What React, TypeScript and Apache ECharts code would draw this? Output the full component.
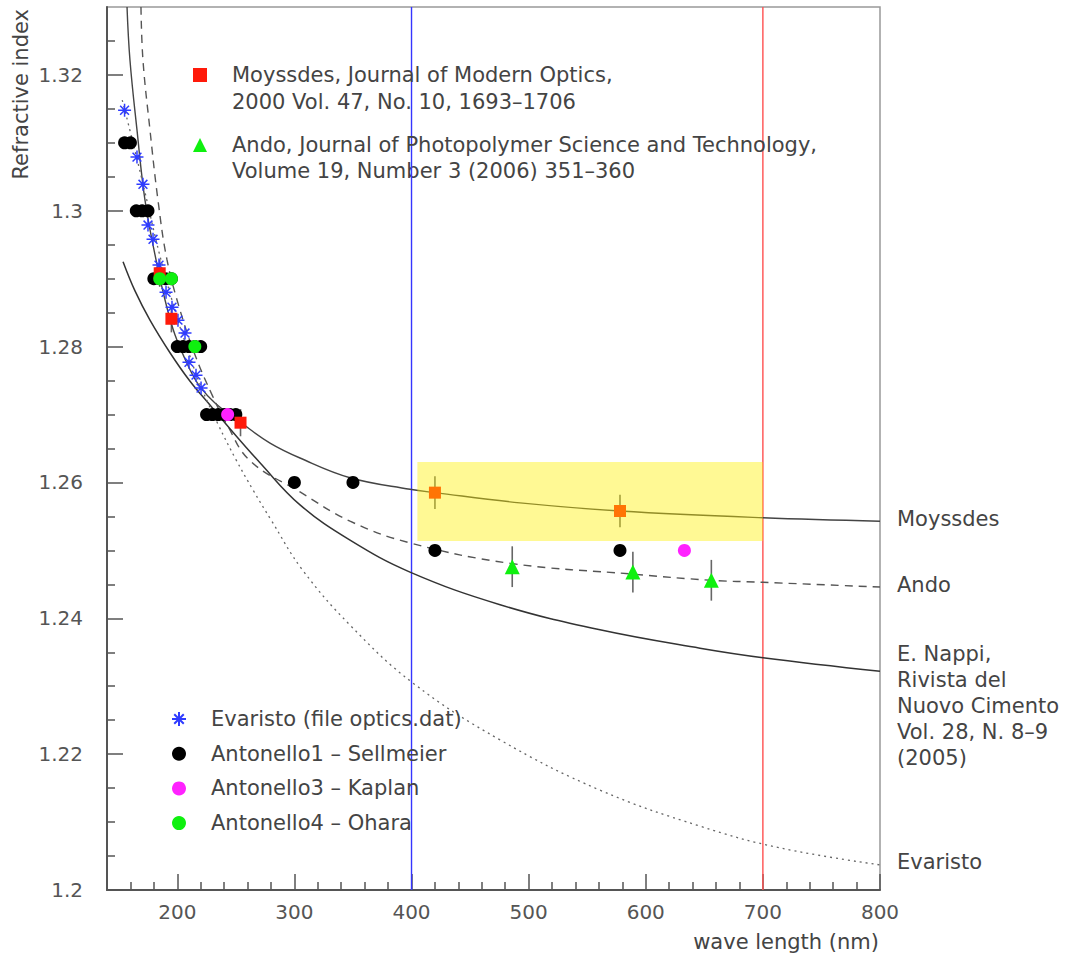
import React, { useEffect, useRef } from 'react';
import * as echarts from 'echarts';

// ---------- axes ----------
const xMajorTicks = [200, 300, 400, 500, 600, 700, 800];
const xMinorTicks = [160, 180, 220, 240, 260, 280, 320, 340, 360, 380, 420, 440, 460, 480, 520, 540, 560, 580, 620, 640, 660, 680, 720, 740, 760, 780];
const yMajorTicks = [1.2, 1.22, 1.24, 1.26, 1.28, 1.3, 1.32];
const yMinorTicks = [1.205, 1.21, 1.215, 1.225, 1.23, 1.235, 1.245, 1.25, 1.255, 1.265, 1.27, 1.275, 1.285, 1.29, 1.295, 1.305, 1.31, 1.315, 1.325];

// ---------- fitted curves ----------
const moyssdesCurveX = [157.1, 159.6, 165.6, 172.4, 181.0, 189.5, 198.1, 210.9, 219.4, 232.2, 254.4, 279.2, 304.8, 347.5, 398.7, 420.1, 492.6, 578.0, 700.1, 800];
const moyssdesCurveY = [1.33, 1.3222, 1.3119, 1.3016, 1.2935, 1.2869, 1.2817, 1.2766, 1.2741, 1.2717, 1.2688, 1.2658, 1.2636, 1.2607, 1.259, 1.2585, 1.257, 1.2558, 1.2548, 1.2543];

const andoCurveX = [169.0, 170.7, 176.7, 183.5, 191.2, 202.3, 215.1, 229.7, 242.5, 262.1, 304.8, 347.5, 398.7, 484.1, 589.1, 655.7, 700.1, 800];
const andoCurveY = [1.33, 1.3222, 1.3119, 1.3016, 1.2928, 1.2854, 1.2788, 1.2729, 1.2685, 1.2632, 1.2586, 1.2543, 1.2511, 1.2481, 1.2465, 1.2456, 1.2453, 1.2446];

const nappiCurveX = [153.7, 163.9, 176.7, 193.8, 210.9, 227.9, 245.0, 270.6, 304.8, 347.5, 398.7, 475.6, 560.9, 646.3, 700.1, 800];
const nappiCurveY = [1.2925, 1.2882, 1.2839, 1.2791, 1.2749, 1.2714, 1.2679, 1.2629, 1.2567, 1.2515, 1.2468, 1.242, 1.2383, 1.2356, 1.2342, 1.2322];

const evaristoCurveX = [153, 155, 170, 185, 200, 210, 220, 235, 250, 265, 280, 307, 347.5, 401, 475.6, 560.9, 646.3, 714.6, 800];
const evaristoCurveY = [1.3163, 1.315, 1.3045, 1.2935, 1.2842, 1.279, 1.2742, 1.2685, 1.2634, 1.2588, 1.2545, 1.2471, 1.239, 1.2305, 1.2221, 1.2147, 1.2094, 1.2062, 1.2037];

// ---------- measured points ----------
const evaristoX = [155, 165.6, 170.7, 175, 179.3, 184.4, 190.4, 195.5, 200.6, 206.6, 210, 216, 220.3];
const evaristoY = [1.3148, 1.3079, 1.3039, 1.2979, 1.2958, 1.292, 1.288, 1.2858, 1.2839, 1.282, 1.2777, 1.2758, 1.2739];

const sellmeierX = [155, 160, 165, 170, 175, 180, 185, 190, 195, 200, 205, 210, 215, 220, 225, 230, 235, 240, 245, 250, 300, 350, 420, 578];
const sellmeierY = [1.31, 1.31, 1.3, 1.3, 1.3, 1.29, 1.29, 1.29, 1.29, 1.28, 1.28, 1.28, 1.28, 1.28, 1.27, 1.27, 1.27, 1.27, 1.27, 1.27, 1.26, 1.26, 1.25, 1.25];

const kaplanX = [243, 633];
const kaplanY = [1.27, 1.25];

const oharaX = [185, 195, 215];
const oharaY = [1.29, 1.29, 1.28];

const moyssdesX = [185, 195, 254, 420, 578];
const moyssdesY = [1.2908, 1.2841, 1.2688, 1.2585, 1.2558];
const moyssdesErr = [0.002, 0.002, 0.002, 0.0024, 0.0024];

const andoX = [486, 589, 656];
const andoY = [1.2476, 1.2468, 1.2456];
const andoErr = [0.003, 0.003, 0.003];

// ---------- annotations ----------
const referenceLines = [400, 700];
const referenceColors = ['#3535ff', '#ff5050'];
const bandX = [405, 700];
const bandY = [1.2514, 1.263];

const FONT = "'DejaVu Sans', sans-serif";
const TEXT = '#444';

const pairs = (xs: number[], ys: number[]) => xs.map((x, i) => [x, ys[i]]);
const triples = (xs: number[], ys: number[], es: number[]) => xs.map((x, i) => [x, ys[i], es[i]]);

const MOY_NAME = 'Moyssdes, Journal of Modern Optics,';
const ANDO_NAME = 'Ando, Journal of Photopolymer Science and Technology,';
const EVA_NAME = 'Evaristo (file optics.dat)';
const A1_NAME = 'Antonello1 – Sellmeier';
const A3_NAME = 'Antonello3 – Kaplan';
const A4_NAME = 'Antonello4 – Ohara';

const STAR = 'path://M5,0L5,10M0,5L10,5M1.6,1.6L8.4,8.4M1.6,8.4L8.4,1.6';

export default function App() {
  const ref = useRef<HTMLDivElement>(null);
  useEffect(() => {
    document.body.style.margin = '0';
    const chart = echarts.init(ref.current as HTMLDivElement, null, { renderer: 'svg' });

    const curve = (name: string, xs: number[], ys: number[], lineStyle: any, label: string, dy: number) => ({
      name,
      type: 'line',
      data: pairs(xs, ys),
      showSymbol: false,
      symbol: 'none',
      smooth: 0.4,
      clip: true,
      silent: true,
      z: 1,
      lineStyle,
      endLabel: {
        show: true,
        formatter: label,
        distance: 0,
        offset: [17, dy],
        color: TEXT,
        fontFamily: FONT,
        fontSize: 21,
        lineHeight: 26,
        align: 'left',
      },
    });

    const errorBars = (name: string, data: number[][], color: string) => ({
      name,
      type: 'custom',
      z: 1,
      silent: true,
      data,
      encode: { x: 0, y: 1 },
      renderItem: (_p: any, api: any) => {
        const x = api.value(0), y = api.value(1), e = api.value(2);
        const a = api.coord([x, y + e]);
        const b = api.coord([x, y - e]);
        return {
          type: 'line',
          shape: { x1: a[0], y1: a[1], x2: b[0], y2: b[1] },
          style: { stroke: color, lineWidth: 1.6 },
        };
      },
    });

    const legendText = {
      fontFamily: FONT,
      fontSize: 21,
      color: TEXT,
      lineHeight: 26,
      padding: [0, 0, 0, 20],
    };

    const option: any = {
      animation: false,
      backgroundColor: '#ffffff',
      textStyle: { fontFamily: FONT },
      grid: {
        left: 107, right: 190, top: 7, bottom: 68,
        show: true, borderColor: '#999', borderWidth: 1.5, backgroundColor: 'transparent',
      },
      xAxis: [
        {
          type: 'value', min: 140, max: 800, position: 'bottom',
          axisLine: { show: true, lineStyle: { color: '#555', width: 2 } },
          axisTick: { show: true, inside: true, length: 16, customValues: xMajorTicks, lineStyle: { color: '#555', width: 1.5 } },
          axisLabel: { show: true, customValues: xMajorTicks, color: '#555', fontSize: 20, fontFamily: FONT, margin: 12 },
          splitLine: { show: false },
        },
        {
          type: 'value', min: 140, max: 800, position: 'bottom',
          axisLine: { show: false },
          axisTick: { show: true, inside: true, length: 8, customValues: xMinorTicks, lineStyle: { color: '#555', width: 1.5 } },
          axisLabel: { show: false },
          splitLine: { show: false },
        },
      ],
      yAxis: [
        {
          type: 'value', min: 1.2, max: 1.33, position: 'left',
          axisLine: { show: true, lineStyle: { color: '#555', width: 2 } },
          axisTick: { show: true, inside: true, length: 16, customValues: yMajorTicks, lineStyle: { color: '#555', width: 1.5 } },
          axisLabel: {
            show: true, customValues: yMajorTicks, color: '#555', fontSize: 20, fontFamily: FONT, margin: 24,
            formatter: (v: number) => String(Number(v.toFixed(2))),
          },
          splitLine: { show: false },
        },
        {
          type: 'value', min: 1.2, max: 1.33, position: 'left',
          axisLine: { show: false },
          axisTick: { show: true, inside: true, length: 8, customValues: yMinorTicks, lineStyle: { color: '#555', width: 1.5 } },
          axisLabel: { show: false },
          splitLine: { show: false },
        },
      ],
      legend: [
        {
          orient: 'vertical', left: 193, top: 62, padding: 0, itemGap: 44, itemWidth: 14, itemHeight: 14,
          selectedMode: false, textStyle: legendText,
          data: [MOY_NAME, ANDO_NAME],
        },
        {
          orient: 'vertical', left: 171, top: 706, padding: 0, itemGap: 8.7, itemWidth: 14, itemHeight: 14,
          selectedMode: false, textStyle: legendText,
          data: [EVA_NAME, A1_NAME, A3_NAME, A4_NAME],
        },
      ],
      graphic: [
        { type: 'text', x: 232, y: 102, silent: true, style: { text: '2000 Vol. 47, No. 10, 1693–1706', fill: TEXT, font: `21px ${FONT}`, verticalAlign: 'middle' } },
        { type: 'text', x: 232, y: 171, silent: true, style: { text: 'Volume 19, Number 3 (2006) 351–360', fill: TEXT, font: `21px ${FONT}`, verticalAlign: 'middle' } },
        { type: 'text', x: 21, y: 9, rotation: Math.PI / 2, silent: true, style: { text: 'Refractive index', fill: TEXT, font: `21px ${FONT}`, align: 'right', verticalAlign: 'middle' } },
        { type: 'text', x: 879, y: 942, silent: true, style: { text: 'wave length (nm)', fill: TEXT, font: `21px ${FONT}`, align: 'right', verticalAlign: 'middle' } },
      ],
      series: [
        {
          name: 'Reference wavelengths', type: 'custom', z: 1, silent: true,
          data: referenceLines.map((x, i) => [x, i]),
          encode: { x: 0 },
          renderItem: (params: any, api: any) => {
            const cs = params.coordSys;
            const px = api.coord([api.value(0), 1.25])[0];
            return {
              type: 'line',
              shape: { x1: px, y1: cs.y, x2: px, y2: cs.y + cs.height },
              style: { stroke: referenceColors[api.value(1)], lineWidth: 1.4 },
            };
          },
        },
        curve('Moyssdes fit', moyssdesCurveX, moyssdesCurveY, { color: '#444', width: 1.4, type: 'solid' }, 'Moyssdes', -2),
        curve('Ando fit', andoCurveX, andoCurveY, { color: '#555', width: 1.4, type: [8, 6] }, 'Ando', -2),
        curve('E. Nappi', nappiCurveX, nappiCurveY, { color: '#333', width: 1.5, type: 'solid' }, 'E. Nappi,\nRivista del\nNuovo Cimento\nVol. 28, N. 8–9\n(2005)', 35),
        curve('Evaristo curve', evaristoCurveX, evaristoCurveY, { color: '#666', width: 1.3, type: [2, 4] }, 'Evaristo', -3),
        errorBars('Moyssdes errors', triples(moyssdesX, moyssdesY, moyssdesErr), '#666'),
        errorBars('Ando errors', triples(andoX, andoY, andoErr), '#666'),
        {
          name: EVA_NAME, type: 'scatter', data: pairs(evaristoX, evaristoY), symbol: STAR, symbolSize: 13, z: 2,
          itemStyle: { color: 'rgba(0,0,0,0)', borderColor: '#2f3cff', borderWidth: 1.5, opacity: 1 },
        },
        {
          name: A1_NAME, type: 'scatter', data: pairs(sellmeierX, sellmeierY), symbol: 'circle', symbolSize: 13, z: 3,
          itemStyle: { color: '#000000', opacity: 1 },
        },
        {
          name: MOY_NAME, type: 'scatter', data: pairs(moyssdesX, moyssdesY), symbol: 'rect', symbolSize: 12, z: 4,
          itemStyle: { color: '#ff1a0a', opacity: 1 },
        },
        {
          name: A3_NAME, type: 'scatter', data: pairs(kaplanX, kaplanY), symbol: 'circle', symbolSize: 13, z: 4,
          itemStyle: { color: '#ff22ff', opacity: 1 },
        },
        {
          name: A4_NAME, type: 'scatter', data: pairs(oharaX, oharaY), symbol: 'circle', symbolSize: 13, z: 5,
          itemStyle: { color: '#0ff00f', opacity: 1 },
        },
        {
          name: ANDO_NAME, type: 'scatter', data: pairs(andoX, andoY), symbol: 'triangle', symbolSize: 15, z: 5,
          itemStyle: { color: '#0ff00f', opacity: 1 },
        },
        {
          name: 'Highlight band', type: 'custom', z: 8, silent: true,
          data: [[bandX[0], bandX[1], bandY[0], bandY[1]]],
          encode: { x: [0, 1], y: [2, 3] },
          renderItem: (_p: any, api: any) => {
            const a = api.coord([api.value(0), api.value(3)]);
            const b = api.coord([api.value(1), api.value(2)]);
            return {
              type: 'rect',
              shape: { x: a[0], y: a[1], width: b[0] - a[0], height: b[1] - a[1] },
              style: { fill: 'rgba(255,240,0,0.42)' },
            };
          },
        },
      ],
    };

    chart.setOption(option);
    return () => chart.dispose();
  }, []);

  return <div ref={ref} style={{ width: 1070, height: 958 }} />;
}
